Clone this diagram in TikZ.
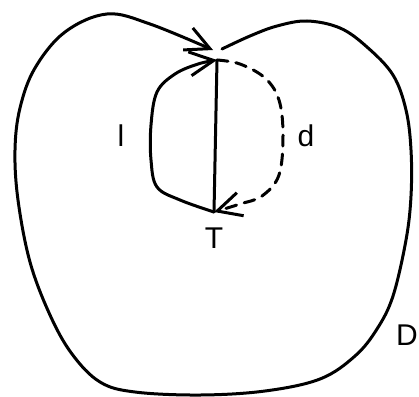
\documentclass[tikz,border=0pt]{standalone}
\usepackage{fontspec}
\setmainfont{Liberation Sans}
\usetikzlibrary{arrows.meta}

\begin{document}
\begin{tikzpicture}[
    x=1pt, y=-1pt,
    curve/.style={line width=3pt, line cap=round, line join=round},
    arrow/.style={-{Straight Barb[length=24pt, width=24pt, line width=3pt]}},
    dashcurve/.style={curve, dash pattern=on 11pt off 8pt},
    lab/.style={font=\fontsize{30}{36}\selectfont, inner sep=0pt},
]
    \useasboundingbox (0,0) rectangle (419,396);
    % points of the inner cycle
    \coordinate (top) at (217,60);
    \coordinate (bot) at (214,212);
    % outer boundary
    \draw[curve, arrow] plot[smooth, tension=0.6] coordinates {
        (222,49) (250,36) (277,26) (307,21) (340,28) (367,47) (393,75) (406,110)
        (411,150) (411,196) (406,240) (393,296) (377,329) (355,356) (320,379)
        (265,391) (200,395) (135,392) (100,382) (72,354) (50,315) (30,262)
        (18,200) (15,150) (20,108) (35,68) (65,32) (107,14) (150,24) (213,50)};
    % inner paths
    \draw[curve] (bot) -- (top);
    \draw[curve, arrow] plot[smooth, tension=0.6] coordinates {
        (bot) (180,200) (157,187) (151,160) (151,125) (157,92) (175,74) (198,64) (top)};
    \draw[dashcurve, arrow] plot[smooth, tension=0.6] coordinates {
        (top) (240,64) (265,78) (279,100) (283,135) (279,175) (262,196) (240,204) (bot)};
    % labels
    \node[lab] (lbl) at (121,136) {l};
    \node[lab] (dl) at (306,136) {d};
    \node[lab] (tl) at (214,238) {T};
    \node[lab, anchor=east] (Dl) at (418,335) {D};
\end{tikzpicture}
\end{document}
